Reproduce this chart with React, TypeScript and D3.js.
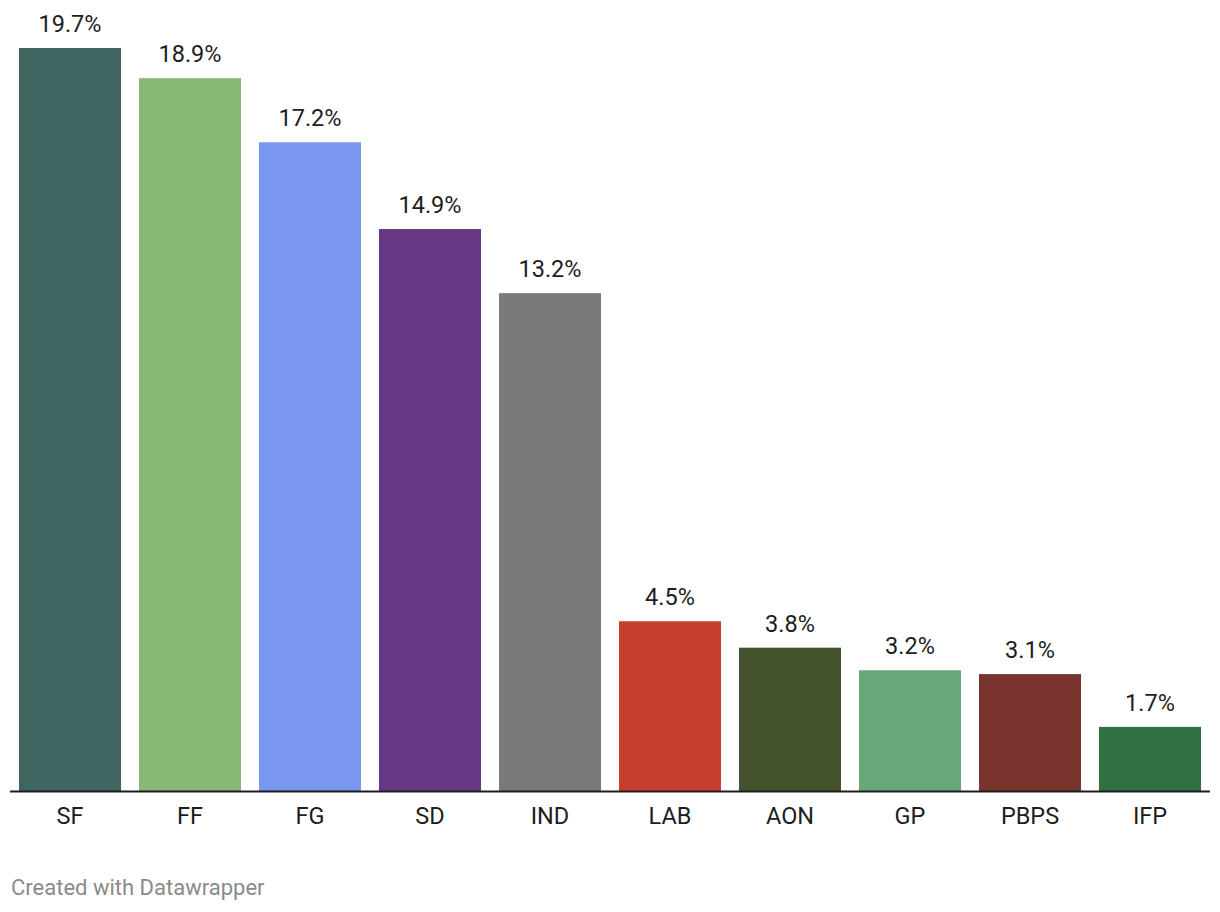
import React from "react";
import * as d3 from "d3";

const categories = ["SF", "FF", "FG", "SD", "IND", "LAB", "AON", "GP", "PBPS", "IFP"];
const values = [19.7, 18.9, 17.2, 14.9, 13.2, 4.5, 3.8, 3.2, 3.1, 1.7];
const colors = ["#3f6561", "#89b776", "#7a97ef", "#663782", "#7a7a7a", "#c63e2e", "#46532f", "#68a778", "#77332c", "#306f41"];

const W = 1220;
const H = 912;
const baseY = 791;

export default function App() {
  const x = d3.scaleBand<string>().domain(categories).range([19, 1201]).paddingInner(0.15).paddingOuter(0);
  const y = d3.scaleLinear().domain([0, 19.7]).range([baseY, 48]);
  return (
    <svg width={W} height={H} style={{ position: "absolute", left: 0, top: 0, fontFamily: "Roboto, sans-serif" }}>
      <rect width={W} height={H} fill="#ffffff" />
      {categories.map((c, i) => (
        <g key={c}>
          <rect x={x(c)} y={y(values[i])} width={x.bandwidth()} height={baseY - y(values[i])} fill={colors[i]} />
          <text x={(x(c) as number) + x.bandwidth() / 2} y={y(values[i]) - 16} textAnchor="middle" fontSize={23.5} fill="#1d1d1d">
            {values[i].toFixed(1) + "%"}
          </text>
          <text x={(x(c) as number) + x.bandwidth() / 2} y={824} textAnchor="middle" fontSize={23.5} fill="#1d1d1d">
            {c}
          </text>
        </g>
      ))}
      <line x1={10} x2={1210} y1={baseY + 0.5} y2={baseY + 0.5} stroke="#1d1d1d" strokeWidth={2} />
      <text x={11} y={895} fontSize={22} fill="#8a8a8a">Created with Datawrapper</text>
    </svg>
  );
}
